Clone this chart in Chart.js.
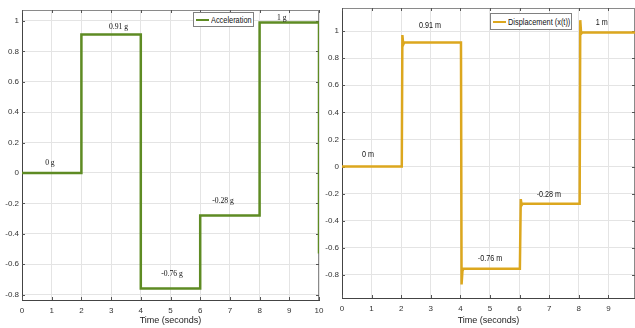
<!DOCTYPE html>
<html><head><meta charset="utf-8">
<script src="https://cdn.jsdelivr.net/npm/chart.js@4.4.1/dist/chart.umd.min.js"></script>
<style>
html,body{margin:0;padding:0;background:#fff;overflow:hidden;width:635px;height:328px;}
canvas{position:absolute;top:0;}
#c1{left:0;}
#c2{left:320px;}
.leg{position:absolute;background:#fff;border:1px solid #808080;font-family:"Liberation Sans",Arial,sans-serif;font-size:9px;color:#111;line-height:12px;white-space:nowrap;box-sizing:border-box;overflow:hidden;}
.leg i{position:absolute;left:2px;top:50%;margin-top:-1px;height:2.5px;width:13px;}
.leg span{position:absolute;left:17px;top:50%;margin-top:-6px;transform:scaleX(0.82);transform-origin:0 50%;}
</style></head><body>
<canvas id="c1" width="332" height="328"></canvas>
<canvas id="c2" width="315" height="328"></canvas>
<div class="leg" style="left:193px;top:12px;width:61px;height:15px"><i style="background:#5e8b23"></i><span>Acceleration</span></div>
<div class="leg" style="left:490px;top:13px;width:82px;height:17px"><i style="background:#dca71e"></i><span>Displacement (x(t))</span></div>
<script>
// ---- data ----
const accelTime   = [0, 2, 2, 4, 4, 6, 6, 8, 8, 10, 10];
const accelValues = [0, 0, 0.91, 0.91, -0.76, -0.76, -0.28, -0.28, 0.99, 0.99, -0.53];

const dispTime   = [0, 2.02, 2.04, 2.07, 2.10, 4.02, 4.04, 4.07, 4.10, 6.01, 6.04, 6.07, 6.10, 8.03, 8.05, 8.08, 8.12, 9.9];
const dispValues = [0, 0, 0.97, 0.90, 0.915, 0.915, -0.87, -0.77, -0.755, -0.755, -0.24, -0.285, -0.275, -0.275, 1.08, 0.98, 0.99, 0.99];

const timeTicks = [0, 1, 2, 3, 4, 5, 6, 7, 8, 9, 10];
const valueTicks = [-0.8, -0.6, -0.4, -0.2, 0, 0.2, 0.4, 0.6, 0.8, 1];

const accelLabelText = ['0 g', '0.91 g', '-0.76 g', '-0.28 g', '1 g'];
const accelLabelX    = [0.94, 3.25, 5.05, 6.77, 8.75];
const accelLabelY    = [0.07, 0.96, -0.66, -0.18, 1.02];

const dispLabelText = ['0 m', '0.91 m', '-0.76 m', '-0.28 m', '1 m'];
const dispLabelX    = [0.88, 2.97, 5.0, 6.99, 8.78];
const dispLabelY    = [0.09, 1.04, -0.68, -0.21, 1.06];

// ---- plugins ----
const annot = {
  id: 'annot',
  afterDatasetsDraw(chart, args, o) {
    const {ctx, scales: {x, y}} = chart;
    o.texts.forEach((t, i) => {
      ctx.save();
      ctx.font = o.font; ctx.fillStyle = o.color;
      ctx.textAlign = 'center'; ctx.textBaseline = 'middle';
      ctx.translate(x.getPixelForValue(o.xs[i]), y.getPixelForValue(o.ys[i]));
      ctx.scale(o.sx, 1);
      ctx.fillText(t, 0, 0);
      ctx.restore();
    });
  }
};
const box = {
  id: 'box',
  beforeDatasetsDraw(chart) {
    const {ctx, chartArea: a, scales: {x, y}} = chart;
    ctx.save();
    ctx.strokeStyle = '#8a8a8a'; ctx.lineWidth = 1;
    ctx.beginPath();
    ctx.moveTo(a.left, a.top + 0.5); ctx.lineTo(a.right, a.top + 0.5);
    ctx.moveTo(a.right - 0.5, a.top); ctx.lineTo(a.right - 0.5, a.bottom);
    ctx.stroke();
    ctx.strokeStyle = '#555';
    ctx.beginPath();
    x.ticks.forEach(t => {
      const px = Math.round(x.getPixelForValue(t.value)) + 0.5;
      ctx.moveTo(px, a.bottom); ctx.lineTo(px, a.bottom - 3);
      ctx.moveTo(px, a.top); ctx.lineTo(px, a.top + 3);
    });
    y.ticks.forEach(t => {
      const py = Math.round(y.getPixelForValue(t.value)) + 0.5;
      ctx.moveTo(a.left, py); ctx.lineTo(a.left + 3, py);
      ctx.moveTo(a.right, py); ctx.lineTo(a.right - 3, py);
    });
    ctx.stroke();
    ctx.restore();
  }
};

const tickFont = {family: '"Liberation Sans", Arial, sans-serif', size: 8};
function keepTicks(list) {
  return scale => { scale.ticks = scale.ticks.filter(t => list.some(v => Math.abs(v - t.value) < 1e-6)); };
}
function fmt(v) { return Math.abs(v) < 1e-9 ? '0' : String(Math.round(v * 10) / 10); }

function makeChart(id, xs, ys, color, label, ymin, ymax, xmax, pad, xh, ann) {
  return new Chart(document.getElementById(id), {
    type: 'line',
    data: {datasets: [{label, data: xs.map((t, i) => ({x: t, y: ys[i]})), borderColor: color, borderWidth: 2.5, pointRadius: 0, tension: 0}]},
    options: {
      responsive: false, animation: false, devicePixelRatio: 1,
      layout: {padding: pad},
      plugins: {legend: {display: false}, tooltip: {enabled: false}, annot: ann},
      scales: {
        x: {
          type: 'linear', min: 0, max: xmax,
          ticks: {stepSize: 1, includeBounds: false, font: tickFont, color: '#333', padding: 6, maxRotation: 0, autoSkip: false, callback: v => String(v)},
          afterBuildTicks: keepTicks(timeTicks),
          afterFit: s => { s.height = xh; },
          grid: {color: '#e4e4e4', drawTicks: false},
          border: {color: '#444'},
          title: {display: true, text: 'Time (seconds)', font: {family: tickFont.family, size: 9}, color: '#222', padding: {top: 0, bottom: 2}}
        },
        y: {
          min: ymin, max: ymax,
          ticks: {stepSize: 0.2, includeBounds: false, font: tickFont, color: '#333', padding: 3, callback: v => fmt(v)},
          afterBuildTicks: keepTicks(valueTicks),
          afterFit: s => { s.width = 22; },
          grid: {color: '#e4e4e4', drawTicks: false},
          border: {color: '#444'}
        }
      }
    },
    plugins: [box, annot]
  });
}

makeChart('c1', accelTime, accelValues, '#5e8b23', 'Acceleration', -0.836, 1.072, 10,
  {top: 10, right: 13, left: 0, bottom: 0}, 28,
  {texts: accelLabelText, xs: accelLabelX, ys: accelLabelY, font: '9px "Liberation Serif", serif', color: '#111', sx: 0.85});
makeChart('c2', dispTime, dispValues, '#dca71e', 'Displacement (x(t))', -0.97, 1.17, 9.9,
  {top: 8, right: 0, left: 0, bottom: 0}, 30,
  {texts: dispLabelText, xs: dispLabelX, ys: dispLabelY, font: '9px "Liberation Sans", Arial, sans-serif', color: '#111', sx: 0.8});
</script>
</body></html>
